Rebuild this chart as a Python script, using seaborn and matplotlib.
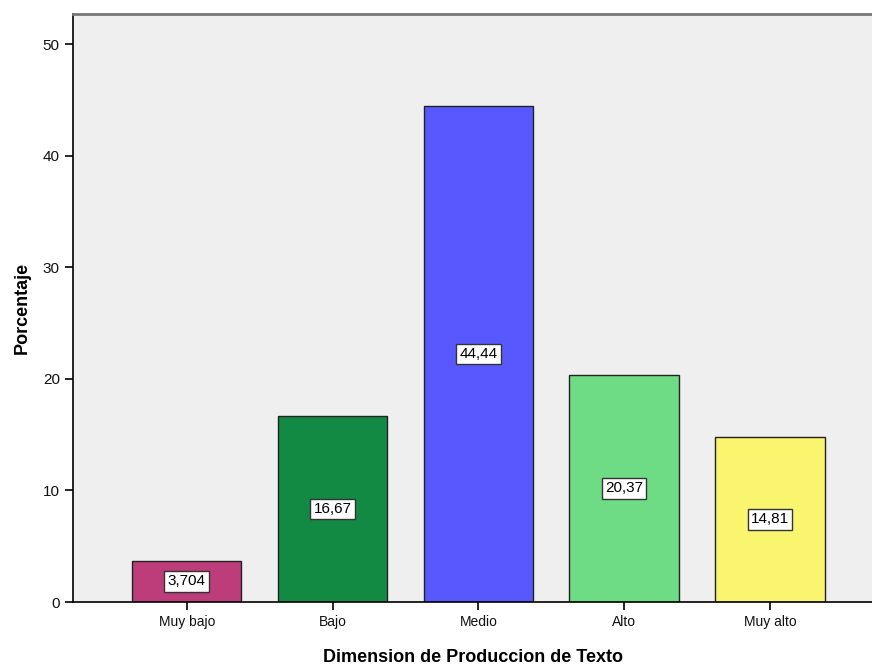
import matplotlib
matplotlib.use("Agg")
import matplotlib.pyplot as plt
import seaborn as sns
import pandas as pd

categories = ["Muy bajo", "Bajo", "Medio", "Alto", "Muy alto"]
values = [3.704, 16.67, 44.44, 20.37, 14.81]
value_labels = ["3,704", "16,67", "44,44", "20,37", "14,81"]
colors = ["#BD3C7A", "#128A43", "#5858FF", "#6EDC85", "#FAF56E"]

sns.set_theme(style="white")
plt.rcParams["font.family"] = ["Liberation Sans", "DejaVu Sans"]

df = pd.DataFrame({"cat": categories, "val": values})

fig = plt.figure(figsize=(8.72, 6.66), dpi=100)
ax = fig.add_axes([73/872, 64/666, 1 - 73/872, (602-14)/666])
ax.set_facecolor("#EFEFEF")

sns.barplot(data=df, x="cat", y="val", hue="cat", palette=colors, legend=False,
            width=0.75, edgecolor="#222222", linewidth=1.0, ax=ax, saturation=1)

for i, (v, lab) in enumerate(zip(values, value_labels)):
    ax.text(i, v / 2, lab, ha="center", va="center", fontsize=11, color="black",
            bbox=dict(boxstyle="square,pad=0.22", facecolor="white", edgecolor="#333333", linewidth=1.0))

ax.set_xlim(-0.78, 4.70)
ax.set_ylim(0, 52.7)
ax.set_yticks([0, 10, 20, 30, 40, 50])
ax.tick_params(axis="both", which="both", length=6, width=1.2, color="black", direction="out",
               left=True, bottom=True)
ax.tick_params(axis="y", labelsize=11, labelcolor="#111111")
ax.tick_params(axis="x", labelsize=10, labelcolor="#111111")

for s in ["left", "bottom"]:
    ax.spines[s].set_color("black")
    ax.spines[s].set_linewidth(1.2)
ax.spines["top"].set_color("#777777")
ax.spines["top"].set_linewidth(2)
ax.spines["right"].set_visible(False)

ax.set_xlabel("Dimension de Produccion de Texto", fontsize=13, fontweight="bold", labelpad=14, color="black")
ax.set_ylabel("Porcentaje", fontsize=13, fontweight="bold", labelpad=9, color="black")

fig.savefig("out.png", dpi=100)
